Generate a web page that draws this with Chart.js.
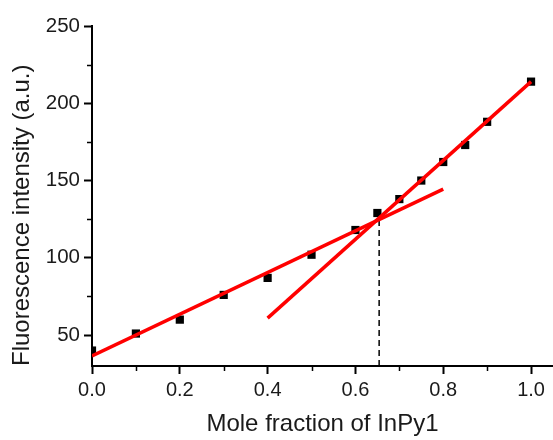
<!DOCTYPE html>
<html>
<head>
<meta charset="utf-8">
<script src="https://cdn.jsdelivr.net/npm/chart.js@4/dist/chart.umd.min.js"></script>
<style>
  html, body { margin: 0; padding: 0; background: #fff; }
  #chart { display: block; }
</style>
</head>
<body>
<canvas id="chart" width="553" height="440"></canvas>
<script>
// measured points
const fractions = [0, 0.1, 0.2, 0.3, 0.4, 0.5, 0.6, 0.65, 0.7, 0.75, 0.8, 0.85, 0.9, 1.0];
const intensity = [40, 51, 60, 76, 87, 102, 118, 129, 138, 150, 162, 173, 188, 214];

// linear fits (low and high region)
const fitLowX = [0, 0.8];
const fitLowY = [36.5, 144.5];
const fitHighX = [0.4, 1.0];
const fitHighY = [61, 214];

// break point marker
const breakX = [0.654, 0.654];
const breakY = [30, 125];

// minor ticks (majors come from the scales)
const xMinor = [0.1, 0.3, 0.5, 0.7, 0.9];
const yMinor = [75, 125, 175, 225];

const toXY = (xs, ys) => xs.map((x, i) => ({ x: x, y: ys[i] }));

const FONT = "'Liberation Sans', Arial, sans-serif";
const INK = '#1a1a1a';

// draws the short minor ticks outside the axes
const minorTicks = {
  id: 'minorTicks',
  afterDraw(chart) {
    const c = chart.ctx;
    const xs = chart.scales.x, ys = chart.scales.y;
    c.save();
    c.strokeStyle = '#000';
    c.lineWidth = 1.5;
    c.beginPath();
    xMinor.forEach(v => {
      const px = Math.round(xs.getPixelForValue(v)) + 0.5;
      c.moveTo(px, xs.top);
      c.lineTo(px, xs.top + 5);
    });
    yMinor.forEach(v => {
      const py = Math.round(ys.getPixelForValue(v)) + 0.5;
      c.moveTo(ys.right, py);
      c.lineTo(ys.right - 5, py);
    });
    c.stroke();
    c.restore();
  }
};

window.onload = () => {
  const ctx = document.getElementById('chart').getContext('2d');

  new Chart(ctx, {
    type: 'scatter',
    data: {
      datasets: [
        {
          label: 'data',
          data: toXY(fractions, intensity),
          pointStyle: 'rect',
          pointRadius: 5.8,
          backgroundColor: '#000',
          borderColor: '#000',
          borderWidth: 0,
          showLine: false,
          order: 3
        },
        {
          label: 'fit low',
          data: toXY(fitLowX, fitLowY),
          showLine: true,
          borderColor: '#ff0000',
          borderWidth: 3.5,
          pointRadius: 0,
          order: 1
        },
        {
          label: 'fit high',
          data: toXY(fitHighX, fitHighY),
          showLine: true,
          borderColor: '#ff0000',
          borderWidth: 3.5,
          pointRadius: 0,
          order: 1
        },
        {
          label: 'break',
          data: toXY(breakX, breakY),
          showLine: true,
          borderColor: '#000',
          borderWidth: 1.5,
          borderDash: [6, 4],
          pointRadius: 0,
          order: 2
        }
      ]
    },
    options: {
      responsive: false,
      animation: false,
      layout: { autoPadding: false, padding: { top: 26, right: 0, bottom: 1, left: 0 } },
      plugins: {
        legend: { display: false },
        tooltip: { enabled: false }
      },
      scales: {
        x: {
          type: 'linear',
          min: 0,
          max: 1.05,
          afterFit: s => { s.height = 73; },
          border: { display: true, color: '#000', width: 2 },
          grid: { drawOnChartArea: false, drawTicks: true, tickLength: 8, tickColor: '#000', tickWidth: 2 },
          ticks: {
            stepSize: 0.2,
            includeBounds: false,
            padding: 4,
            color: INK,
            font: { family: FONT, size: 20 },
            maxRotation: 0,
            autoSkip: false,
            callback: v => v.toFixed(1)
          },
          title: {
            display: true,
            text: 'Mole fraction of InPy1',
            color: INK,
            font: { family: FONT, size: 24 },
            padding: { top: 0, bottom: 0 }
          }
        },
        y: {
          type: 'linear',
          min: 30,
          max: 250,
          afterFit: s => { s.width = 92; },
          border: { display: true, color: '#000', width: 2 },
          grid: { drawOnChartArea: false, drawTicks: true, tickLength: 8, tickColor: '#000', tickWidth: 2 },
          ticks: {
            stepSize: 50,
            includeBounds: false,
            padding: 4,
            color: INK,
            font: { family: FONT, size: 20.5 },
            autoSkip: false,
            callback: v => String(v)
          },
          title: {
            display: true,
            text: 'Fluorescence intensity (a.u.)',
            color: INK,
            align: 'start',
            font: { family: FONT, size: 24 },
            padding: { top: 7.6, bottom: 0 }
          }
        }
      }
    },
    plugins: [minorTicks]
  });
};
</script>
</body>
</html>
